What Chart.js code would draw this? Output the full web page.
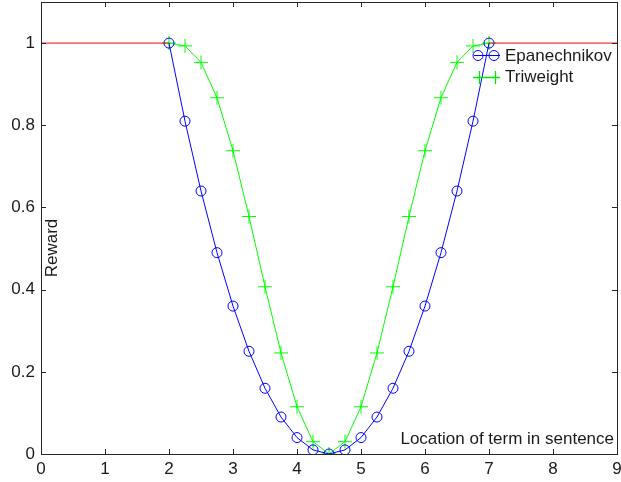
<!DOCTYPE html>
<html>
<head>
<meta charset="utf-8">
<script src="https://cdn.jsdelivr.net/npm/chart.js@4"></script>
<style>
  html, body { margin: 0; padding: 0; background: #fff; }
  #wrap { width: 621px; height: 482px; }
</style>
</head>
<body>
<div id="wrap"><canvas id="chart" width="621" height="482"></canvas></div>
<script>
    // values
    let locations = [2, 2.25, 2.5, 2.75, 3, 3.25, 3.5, 3.75, 4, 4.25, 4.5, 4.75, 5, 5.25, 5.5, 5.75, 6, 6.25, 6.5, 6.75, 7];
    let epanechnikov = [1, 0.81, 0.64, 0.49, 0.36, 0.25, 0.16, 0.09, 0.04, 0.01, 0, 0.01, 0.04, 0.09, 0.16, 0.25, 0.36, 0.49, 0.64, 0.81, 1];
    let triweight = [1, 0.993, 0.953, 0.867, 0.738, 0.578, 0.407, 0.246, 0.115, 0.03, 0, 0.03, 0.115, 0.246, 0.407, 0.578, 0.738, 0.867, 0.953, 0.993, 1];
    let flatX = [0, 2, 4.5, 7, 9];
    let flatY = [1, 1, null, 1, 1];
    let xTicks = [0, 1, 2, 3, 4, 5, 6, 7, 8, 9];
    let yTicks = [0, 0.2, 0.4, 0.6, 0.8, 1];

    const FONT = '"Liberation Sans", Arial, sans-serif';

    function toPoints(xs, ys) {
        return xs.map((x, i) => ({x: x, y: ys[i]}));
    }

    // matlab-ish box, inward ticks, axis labels and legend
    const matlabBox = {
        id: 'matlabBox',
        afterDraw(chart) {
            let ctx = chart.ctx;
            let a = chart.chartArea;
            let xs = chart.scales.x, ys = chart.scales.y;
            ctx.save();
            ctx.strokeStyle = '#262626';
            ctx.lineWidth = 1;
            ctx.strokeRect(Math.round(a.left) + 0.5, Math.round(a.top) + 0.5,
                Math.round(a.right - a.left), Math.round(a.bottom - a.top));
            ctx.beginPath();
            xTicks.forEach(v => {
                let px = Math.round(xs.getPixelForValue(v)) + 0.5;
                ctx.moveTo(px, a.bottom); ctx.lineTo(px, a.bottom - 5);
                ctx.moveTo(px, a.top); ctx.lineTo(px, a.top + 5);
            });
            yTicks.forEach(v => {
                let py = Math.round(ys.getPixelForValue(v)) + 0.5;
                ctx.moveTo(a.left, py); ctx.lineTo(a.left + 5, py);
                ctx.moveTo(a.right, py); ctx.lineTo(a.right - 5, py);
            });
            ctx.stroke();

            ctx.fillStyle = '#1a1a1a';
            ctx.font = '17px ' + FONT;
            ctx.textBaseline = 'middle';
            ctx.textAlign = 'right';
            ctx.fillText('Location of term in sentence', a.right - 3, 439);

            ctx.save();
            ctx.translate(52, 248);
            ctx.rotate(-Math.PI / 2);
            ctx.textAlign = 'center';
            ctx.fillText('Reward', 0, 0);
            ctx.restore();

            // legend
            ctx.textAlign = 'left';
            ctx.fillText('Epanechnikov', 505, 56);
            ctx.fillText('Triweight', 505, 77);
            ctx.lineWidth = 1;
            ctx.strokeStyle = '#0000ff';
            ctx.beginPath();
            ctx.moveTo(474, 55.5); ctx.lineTo(500, 55.5);
            ctx.stroke();
            [478, 494].forEach(cx => {
                ctx.beginPath();
                ctx.arc(cx, 55.5, 5, 0, Math.PI * 2);
                ctx.stroke();
            });
            ctx.strokeStyle = 'rgb(0,230,0)';
            ctx.lineWidth = 1.3;
            ctx.beginPath();
            ctx.moveTo(473, 77.5); ctx.lineTo(500, 77.5);
            [479, 495].forEach(cx => {
                ctx.moveTo(cx + 0.5, 71); ctx.lineTo(cx + 0.5, 84);
            });
            ctx.stroke();
            ctx.restore();
        }
    };

    let chart = new Chart(document.getElementById('chart'), {
        type: 'line',
        data: {
            datasets: [{
                label: 'flat',
                data: toPoints(flatX, flatY),
                borderColor: '#ff0000',
                borderWidth: 1,
                pointRadius: 0,
                spanGaps: false
            }, {
                label: 'Epanechnikov',
                data: toPoints(locations, epanechnikov),
                borderColor: '#0000ff',
                borderWidth: 1,
                pointStyle: 'circle',
                pointRadius: 5,
                pointBorderColor: '#0000ff',
                pointBackgroundColor: 'rgba(0,0,0,0)',
                pointBorderWidth: 1
            }, {
                label: 'Triweight',
                data: toPoints(locations, triweight),
                borderColor: '#00ff00',
                borderWidth: 1,
                pointStyle: 'cross',
                pointRadius: 7,
                pointBorderColor: '#00ff00',
                pointBorderWidth: 1
            }]
        },
        options: {
            responsive: false,
            animation: false,
            layout: {autoPadding: false, padding: {top: 2, right: 4, left: 0, bottom: 0}},
            plugins: {legend: {display: false}, tooltip: {enabled: false}},
            scales: {
                x: {
                    type: 'linear', min: 0, max: 9,
                    grid: {display: false, drawTicks: false},
                    border: {display: false},
                    afterBuildTicks: s => { s.ticks = xTicks.map(v => ({value: v})); },
                    afterFit: s => { s.height = 28; s.paddingLeft = 0; s.paddingRight = 0; },
                    ticks: {padding: 5, color: '#1a1a1a', font: {family: FONT, size: 17}, maxRotation: 0,
                        callback: v => String(v)}
                },
                y: {
                    type: 'linear', min: 0, max: 1.1,
                    grid: {display: false, drawTicks: false},
                    border: {display: false},
                    afterBuildTicks: s => { s.ticks = yTicks.map(v => ({value: v})); },
                    afterFit: s => { s.width = 41; s.paddingTop = 0; s.paddingBottom = 0; },
                    ticks: {padding: 6, color: '#1a1a1a', font: {family: FONT, size: 17},
                        callback: v => String(v)}
                }
            }
        },
        plugins: [matlabBox]
    });
</script>
</body>
</html>
